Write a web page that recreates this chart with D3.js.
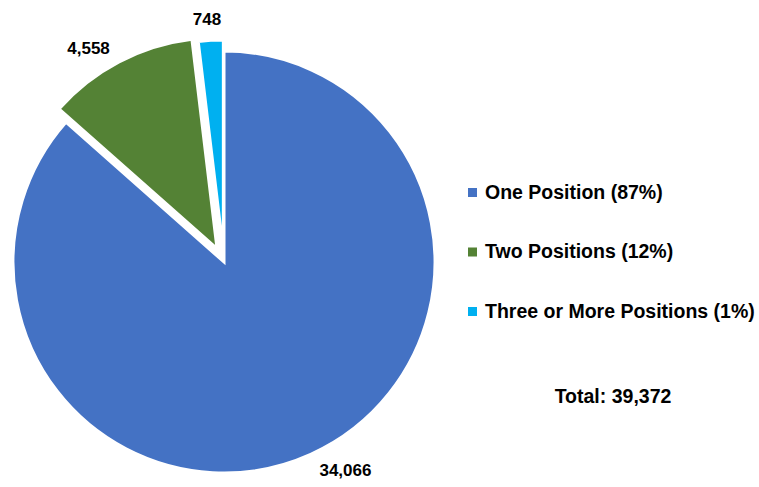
<!DOCTYPE html>
<html><head><meta charset="utf-8">
<script src="https://cdn.jsdelivr.net/npm/d3@7/dist/d3.min.js"></script>
<style>body{margin:0;background:#fff}svg{display:block}text{font-family:"Liberation Sans",Arial,sans-serif;font-weight:bold;fill:#000}</style>
</head><body><svg id="c" width="759" height="487"></svg>
<script>
const categories = ["One Position", "Two Positions", "Three or More Positions"];
const values = [34066, 4558, 748];
const percentLabels = ["87%", "12%", "1%"];
const valueLabels = ["34,066", "4,558", "748"];
const totalLabel = "Total: 39,372";
const colors = ["#4472C4", "#548235", "#00B0F0"];

const svg = d3.select("#c");
const cx = 224, cy = 262, R = 211;
const explode = [0, 15, 11];
const labelShiftDeg = [-6, -5, -0.6];
const labelDist = [241, 238, 233];

const pie = d3.pie().sort(null).value(d => d)(values);
const arc = d3.arc().innerRadius(0).outerRadius(R);
const g = svg.append("g").attr("transform", `translate(${cx},${cy})`);

pie.forEach((p, i) => {
  const mid = (p.startAngle + p.endAngle) / 2;
  const ox = explode[i] * Math.sin(mid), oy = -explode[i] * Math.cos(mid);
  const sg = g.append("g").attr("transform", `translate(${ox},${oy})`);
  sg.append("path").attr("d", arc(p)).attr("fill", colors[i])
    .attr("stroke", "#fff").attr("stroke-width", 3).attr("stroke-linejoin", "miter");
  const a = mid + labelShiftDeg[i] * Math.PI / 180;
  sg.append("text")
    .attr("x", labelDist[i] * Math.sin(a))
    .attr("y", -labelDist[i] * Math.cos(a))
    .attr("dy", "0.35em").attr("text-anchor", "middle")
    .attr("font-size", 17).text(valueLabels[i]);
});

const leg = svg.append("g").attr("transform", "translate(468,0)");
categories.forEach((c, i) => {
  const y = 192.5 + i * 59.5;
  leg.append("rect").attr("x", 0).attr("y", y - 4.5).attr("width", 9).attr("height", 9).attr("fill", colors[i]);
  leg.append("text").attr("x", 17).attr("y", y + 6).attr("font-size", 19.5)
    .text(`${c} (${percentLabels[i]})`);
});
svg.append("text").attr("x", 613).attr("y", 403).attr("text-anchor", "middle")
  .attr("font-size", 19.5).text(totalLabel);
</script></body></html>
